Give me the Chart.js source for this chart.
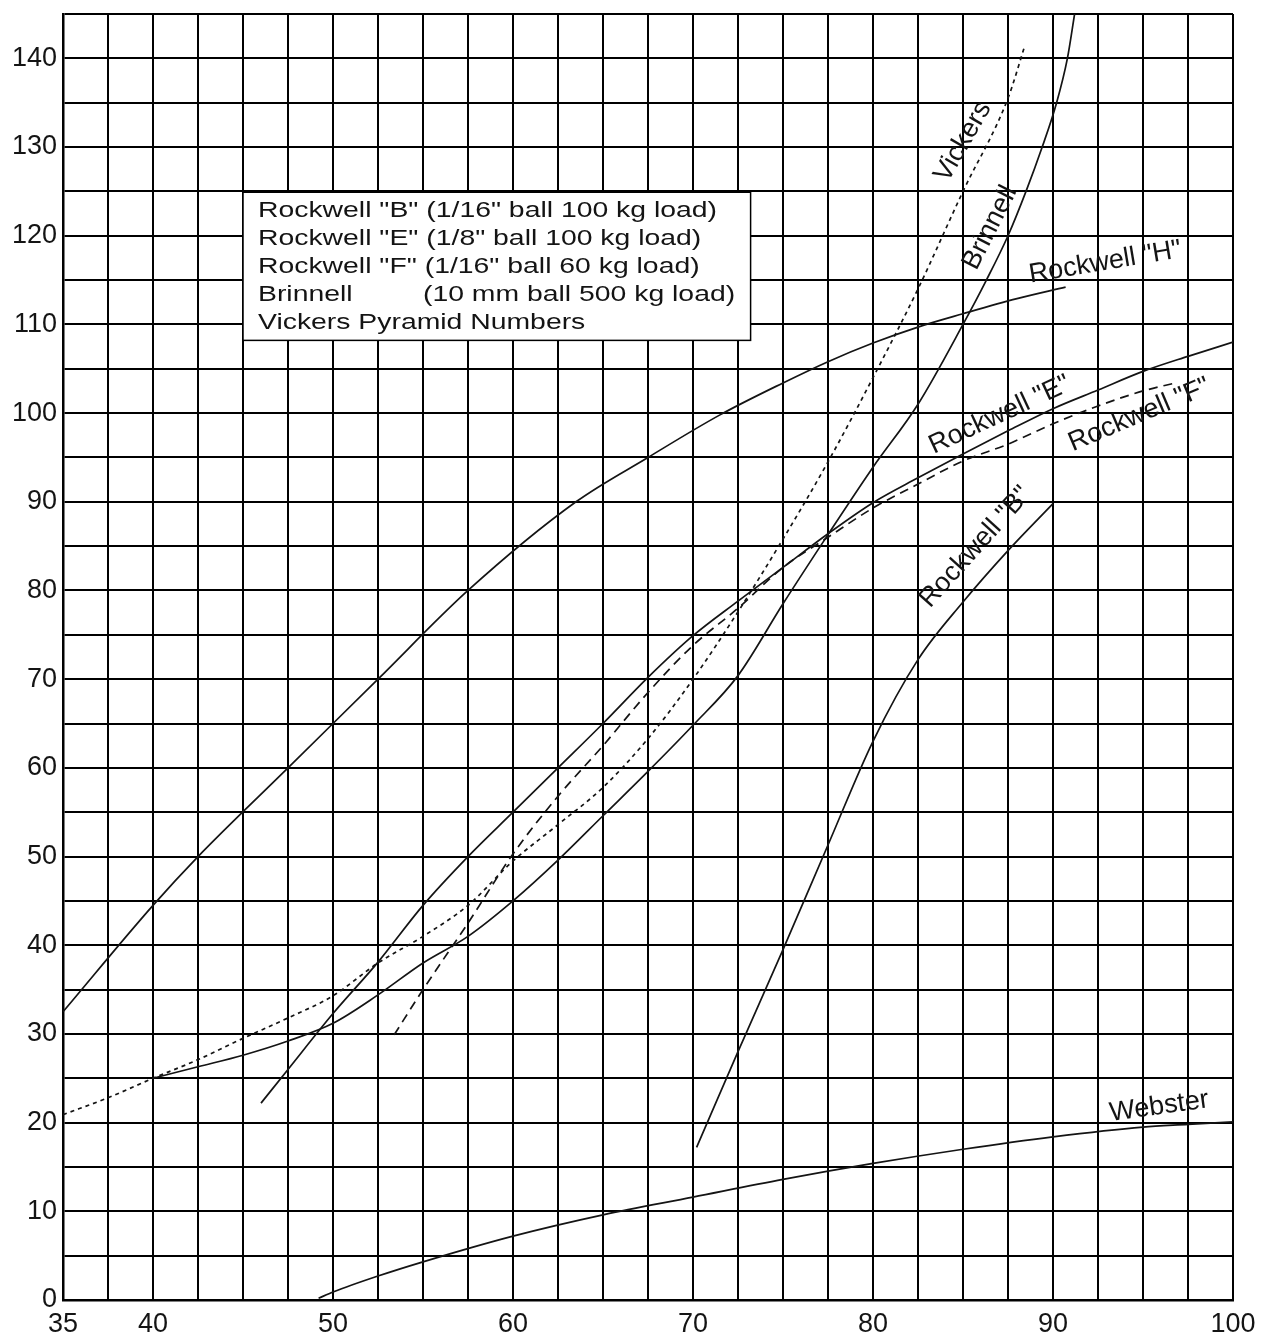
<!DOCTYPE html>
<html><head><meta charset="utf-8">
<script src="https://cdn.jsdelivr.net/npm/chart.js@4/dist/chart.umd.min.js"></script>
<style>html,body{margin:0;padding:0;background:#fff}canvas{display:block}</style>
</head><body>
<canvas id="c" width="1262" height="1337"></canvas>
<script>
// ---- tick labels ----
const xTickLabels = [35, 40, 50, 60, 70, 80, 90, 100];
const yTickLabels = [0, 10, 20, 30, 40, 50, 60, 70, 80, 90, 100, 110, 120, 130, 140];

// ---- series (x = horizontal scale value, y = vertical scale value) ----
const rockwellH_x = [35, 40, 42.5, 47.5, 52.5, 57.5, 63.5, 67.5, 71.5, 75, 77.5, 80, 82.5, 85, 88, 90.7];
const rockwellH_y = [32.5, 44.5, 50, 60, 70, 80, 90, 95, 99.8, 103.4, 105.8, 107.9, 109.7, 111.2, 112.9, 114.2];

const brinnell_x = [40, 42.5, 45, 47.5, 50, 52.5, 55, 57.5, 60, 62.5, 65, 67.5, 70, 72.5, 75, 77.5, 80, 82.5, 85, 86.3, 87.5, 88.5, 89.4, 90.2, 90.8, 91.2];
const brinnell_y = [25, 26.3, 27.6, 29.2, 31.2, 34.4, 38, 41, 45, 49.6, 54.6, 59.6, 64.8, 70.4, 78.5, 86.3, 93.9, 101, 110, 115, 120, 125, 130, 135, 140, 145];

const vickers_x = [35, 37.5, 40, 42.5, 45, 47.5, 50, 52.5, 55, 57.5, 60, 62.5, 65, 67.5, 70, 72.5, 75, 77.5, 80, 82.5, 85, 87.5, 88.4];
const vickers_y = [20.9, 22.8, 25, 27.1, 29.5, 31.8, 34.3, 38, 41, 44.5, 49.5, 53.6, 57.8, 63.3, 70, 77.6, 85.8, 94.5, 104, 114, 125, 135.5, 141.2];

const rockwellE_x = [46, 47.5, 50, 52.5, 55, 57.5, 60, 62.5, 65, 67.5, 70, 72.5, 75, 77.5, 80, 82.5, 85, 87.5, 90, 92.5, 95, 97.5, 100];
const rockwellE_y = [22.2, 26, 32.3, 38.1, 44.5, 50, 55, 60, 65, 70.2, 74.9, 78.8, 82.6, 86.4, 89.9, 92.7, 95.4, 98, 100.5, 102.6, 104.7, 106.4, 108];

const rockwellF_x = [53.4, 55, 57.5, 60, 62.5, 65, 67.5, 70, 72.5, 75, 77.5, 80, 82.5, 85, 87.5, 90, 92.5, 95, 96.8];
const rockwellF_y = [29.9, 35, 42.5, 50.3, 56.8, 62.5, 68.5, 73.8, 78, 82.6, 86, 89.3, 92, 94.6, 96.5, 98.8, 100.8, 102.5, 103.4];

const rockwellB_x = [70.2, 72.5, 75, 77.5, 80, 82.5, 85, 87.5, 90];
const rockwellB_y = [17.2, 28, 39.5, 51.3, 63, 72.2, 78.7, 84.5, 89.8];

const webster_x = [49.2, 50, 52.5, 55, 60, 65, 70, 75, 80, 85, 90, 95, 97.5, 100];
const webster_y = [0.2, 0.9, 2.7, 4.3, 7.2, 9.6, 11.6, 13.6, 15.4, 17, 18.4, 19.5, 19.8, 20.1];

// ---- legend text ----
const legendLines = [
  ['Rockwell "B" (1/16" ball 100 kg load)'],
  ['Rockwell "E" (1/8" ball 100 kg load)'],
  ['Rockwell "F" (1/16" ball 60 kg load)'],
  ['Brinnell', '(10 mm ball 500 kg load)'],
  ['Vickers Pyramid Numbers']
];

// ---- curve labels (annotation placement) ----
const curveLabels = [
  { text: 'Vickers',       at: [85.0, 130.6], angle: -60 },
  { text: 'Brinnell',      at: [86.5, 120.9], angle: -63 },
  { text: 'Rockwell "H"',  at: [92.9, 117.0], angle: -9.5 },
  { text: 'Rockwell "E"',  at: [87.05, 99.8], angle: -25 },
  { text: 'Rockwell "F"',  at: [94.8, 99.8], angle: -23 },
  { text: 'Rockwell "B"',  at: [85.7, 84.9], angle: -48 },
  { text: 'Webster',       at: [95.9, 21.8], angle: -8 }
];

function pts(xs, ys) { return xs.map((x, i) => ({ x: x, y: ys[i] })); }

const FONT = '"Liberation Sans", Arial, Helvetica, sans-serif';
const INK = '#141414';

function ds(label, xs, ys, dash) {
  return {
    label: label,
    data: pts(xs, ys),
    borderColor: INK,
    borderWidth: 1.7,
    borderDash: dash || [],
    pointRadius: 0,
    fill: false,
    showLine: true,
    cubicInterpolationMode: 'monotone'
  };
}

const overlayPlugin = {
  id: 'overlay',
  beforeDatasetsDraw(chart) {
    const ctx = chart.ctx, xs = chart.scales.x, ys = chart.scales.y;
    // legend box
    const L = xs.getPixelForValue(45), R = xs.getPixelForValue(73.2);
    const T = ys.getPixelForValue(125), B = ys.getPixelForValue(108.2);
    ctx.save();
    ctx.fillStyle = '#fff';
    ctx.fillRect(L, T, R - L, B - T);
    ctx.strokeStyle = '#000';
    ctx.lineWidth = 1.5;
    ctx.strokeRect(L, T, R - L, B - T);
    ctx.lineWidth = 3;
    ctx.beginPath(); ctx.moveTo(L, T); ctx.lineTo(R, T); ctx.stroke();
    ctx.font = '22px ' + FONT;
    ctx.fillStyle = INK;
    ctx.textBaseline = 'middle';
    const w0 = ctx.measureText(legendLines[0][0]).width;
    const sx = 459 / w0;
    const x0 = L + 15;
    legendLines.forEach((parts, i) => {
      const yy = T + 20 + i * 28;
      ctx.save();
      ctx.translate(x0, yy);
      ctx.scale(sx, 1);
      ctx.fillText(parts[0], 0, 0);
      if (parts[1]) ctx.fillText(parts[1], (L + 180 - x0) / sx, 0);
      ctx.restore();
    });
    ctx.restore();
  },
  afterDatasetsDraw(chart) {
    const ctx = chart.ctx, xs = chart.scales.x, ys = chart.scales.y;
    ctx.save();
    ctx.font = '27px ' + FONT;
    ctx.fillStyle = INK;
    ctx.textAlign = 'center';
    ctx.textBaseline = 'middle';
    curveLabels.forEach(l => {
      ctx.save();
      ctx.translate(xs.getPixelForValue(l.at[0]), ys.getPixelForValue(l.at[1]));
      ctx.rotate(l.angle * Math.PI / 180);
      ctx.fillText(l.text, 0, 0);
      ctx.restore();
    });
    ctx.restore();
  }
};

new Chart(document.getElementById('c'), {
  type: 'scatter',
  data: {
    datasets: [
      ds('Rockwell "H"', rockwellH_x, rockwellH_y),
      ds('Brinnell', brinnell_x, brinnell_y),
      ds('Vickers', vickers_x, vickers_y, [4, 4]),
      ds('Rockwell "E"', rockwellE_x, rockwellE_y),
      ds('Rockwell "F"', rockwellF_x, rockwellF_y, [9, 6]),
      ds('Rockwell "B"', rockwellB_x, rockwellB_y),
      ds('Webster', webster_x, webster_y)
    ]
  },
  options: {
    responsive: false,
    animation: false,
    devicePixelRatio: 1,
    layout: { padding: { top: 14, right: 29, left: 0, bottom: 0 } },
    plugins: { legend: { display: false }, tooltip: { enabled: false } },
    scales: {
      x: {
        type: 'linear', min: 35, max: 100,
        ticks: {
          stepSize: 2.5, autoSkip: false, maxRotation: 0, padding: 8,
          color: INK, font: { family: FONT, size: 27 },
          callback: v => xTickLabels.includes(v) ? String(v) : ''
        },
        grid: { color: '#000', lineWidth: 2, drawTicks: false },
        border: { color: '#000', width: 2.5 },
        afterFit: s => { s.height = 37; s.paddingLeft = 0; s.paddingRight = 0; }
      },
      y: {
        type: 'linear', min: 0, max: 145,
        ticks: {
          stepSize: 5, autoSkip: false, padding: 6,
          color: INK, font: { family: FONT, size: 27 },
          callback: v => yTickLabels.includes(v) ? String(v) : ''
        },
        grid: { color: '#000', lineWidth: 2, drawTicks: false },
        border: { color: '#000', width: 2.5 },
        afterFit: s => { s.width = 63; s.paddingTop = 0; s.paddingBottom = 0; }
      }
    }
  },
  plugins: [overlayPlugin]
});
</script>
</body></html>
